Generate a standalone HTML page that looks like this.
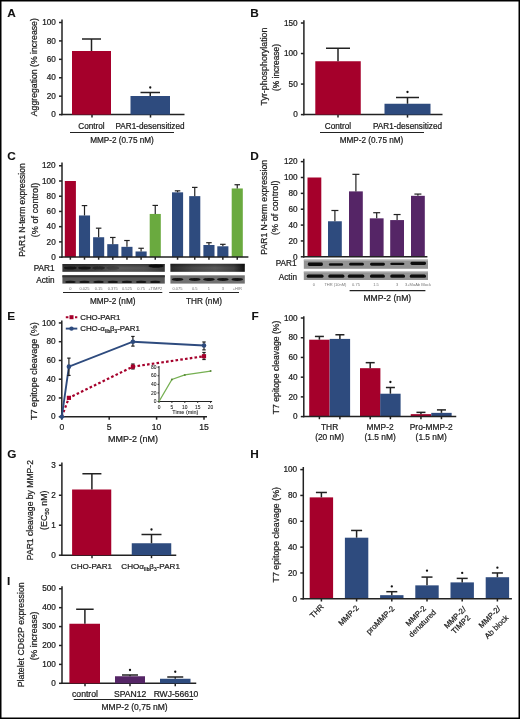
<!DOCTYPE html>
<html><head><meta charset="utf-8"><style>
html,body{margin:0;padding:0;background:#fff;}
body{width:520px;height:719px;overflow:hidden;}
svg{display:block;will-change:transform;font-family:"Liberation Sans", sans-serif;}
text{stroke:#1a1a1a;stroke-width:0.22px;}
</style></head><body>
<svg width="520" height="719" viewBox="0 0 520 719">
<rect x="0" y="0" width="520" height="719" fill="#fff"/>
<text x="7.20" y="16.60" font-size="11.8" font-weight="bold" fill="#111" style="stroke-width:0.1px">A</text>
<line x1="62.00" y1="19.60" x2="62.00" y2="115.25" stroke="#222" stroke-width="1.5" />
<line x1="59.00" y1="114.60" x2="62.00" y2="114.60" stroke="#222" stroke-width="1.5" />
<text x="55.80" y="117.31" font-size="8.2" text-anchor="end" font-weight="normal" fill="#222" >0</text>
<line x1="59.00" y1="96.18" x2="62.00" y2="96.18" stroke="#222" stroke-width="1.5" />
<text x="55.80" y="98.89" font-size="8.2" text-anchor="end" font-weight="normal" fill="#222" >20</text>
<line x1="59.00" y1="77.76" x2="62.00" y2="77.76" stroke="#222" stroke-width="1.5" />
<text x="55.80" y="80.47" font-size="8.2" text-anchor="end" font-weight="normal" fill="#222" >40</text>
<line x1="59.00" y1="59.34" x2="62.00" y2="59.34" stroke="#222" stroke-width="1.5" />
<text x="55.80" y="62.05" font-size="8.2" text-anchor="end" font-weight="normal" fill="#222" >60</text>
<line x1="59.00" y1="40.92" x2="62.00" y2="40.92" stroke="#222" stroke-width="1.5" />
<text x="55.80" y="43.63" font-size="8.2" text-anchor="end" font-weight="normal" fill="#222" >80</text>
<line x1="59.00" y1="22.50" x2="62.00" y2="22.50" stroke="#222" stroke-width="1.5" />
<text x="55.80" y="25.21" font-size="8.2" text-anchor="end" font-weight="normal" fill="#222" >100</text>
<line x1="61.35" y1="114.60" x2="184.50" y2="114.60" stroke="#222" stroke-width="1.5" />
<line x1="92.00" y1="114.60" x2="92.00" y2="117.60" stroke="#222" stroke-width="1.5" />
<line x1="150.50" y1="114.60" x2="150.50" y2="117.60" stroke="#222" stroke-width="1.5" />
<rect x="72.00" y="51.00" width="39.00" height="63.60" fill="#a5002b"/>
<line x1="91.50" y1="51.00" x2="91.50" y2="39.00" stroke="#222" stroke-width="1.5" />
<line x1="82.00" y1="39.00" x2="101.00" y2="39.00" stroke="#222" stroke-width="1.5" />
<rect x="130.50" y="96.00" width="39.50" height="18.60" fill="#2e4b7e"/>
<line x1="150.25" y1="96.00" x2="150.25" y2="92.50" stroke="#222" stroke-width="1.5" />
<line x1="140.50" y1="92.50" x2="160.00" y2="92.50" stroke="#222" stroke-width="1.5" />
<circle cx="150.25" cy="87.50" r="1.15" fill="#111"/>
<text x="91.50" y="128.71" font-size="8.2" text-anchor="middle" font-weight="normal" fill="#222" >Control</text>
<text x="150.00" y="128.71" font-size="8.2" text-anchor="middle" font-weight="normal" fill="#222" >PAR1-desensitized</text>
<line x1="70.00" y1="132.50" x2="174.00" y2="132.50" stroke="#222" stroke-width="1.1" />
<text x="122.00" y="142.51" font-size="8.2" text-anchor="middle" font-weight="normal" fill="#222" >MMP-2 (0.75 nM)</text>
<text transform="translate(33.90,67.20) rotate(-90)" x="0" y="3.11" font-size="8.7" text-anchor="middle" fill="#222">Aggregation (% increase)</text>
<text x="250.20" y="16.90" font-size="11.8" font-weight="bold" fill="#111" style="stroke-width:0.1px">B</text>
<line x1="303.90" y1="20.30" x2="303.90" y2="115.25" stroke="#222" stroke-width="1.5" />
<line x1="300.90" y1="114.60" x2="303.90" y2="114.60" stroke="#222" stroke-width="1.5" />
<text x="297.70" y="117.31" font-size="8.2" text-anchor="end" font-weight="normal" fill="#222" >0</text>
<line x1="300.90" y1="84.07" x2="303.90" y2="84.07" stroke="#222" stroke-width="1.5" />
<text x="297.70" y="86.77" font-size="8.2" text-anchor="end" font-weight="normal" fill="#222" >50</text>
<line x1="300.90" y1="53.53" x2="303.90" y2="53.53" stroke="#222" stroke-width="1.5" />
<text x="297.70" y="56.24" font-size="8.2" text-anchor="end" font-weight="normal" fill="#222" >100</text>
<line x1="300.90" y1="23.00" x2="303.90" y2="23.00" stroke="#222" stroke-width="1.5" />
<text x="297.70" y="25.71" font-size="8.2" text-anchor="end" font-weight="normal" fill="#222" >150</text>
<line x1="303.25" y1="114.60" x2="442.50" y2="114.60" stroke="#222" stroke-width="1.5" />
<line x1="338.00" y1="114.60" x2="338.00" y2="117.60" stroke="#222" stroke-width="1.5" />
<line x1="407.50" y1="114.60" x2="407.50" y2="117.60" stroke="#222" stroke-width="1.5" />
<rect x="315.30" y="61.25" width="45.45" height="53.35" fill="#a5002b"/>
<line x1="338.00" y1="61.25" x2="338.00" y2="48.25" stroke="#222" stroke-width="1.5" />
<line x1="326.00" y1="48.25" x2="350.00" y2="48.25" stroke="#222" stroke-width="1.5" />
<rect x="384.50" y="103.75" width="46.00" height="10.85" fill="#2e4b7e"/>
<line x1="407.50" y1="103.75" x2="407.50" y2="97.50" stroke="#222" stroke-width="1.5" />
<line x1="396.00" y1="97.50" x2="419.00" y2="97.50" stroke="#222" stroke-width="1.5" />
<circle cx="407.50" cy="92.00" r="1.15" fill="#111"/>
<text x="338.00" y="128.71" font-size="8.2" text-anchor="middle" font-weight="normal" fill="#222" >Control</text>
<text x="407.50" y="128.71" font-size="8.2" text-anchor="middle" font-weight="normal" fill="#222" >PAR1-desensitized</text>
<line x1="320.00" y1="132.50" x2="424.00" y2="132.50" stroke="#222" stroke-width="1.1" />
<text x="371.50" y="142.51" font-size="8.2" text-anchor="middle" font-weight="normal" fill="#222" >MMP-2 (0.75 nM)</text>
<text transform="translate(263.60,66.50) rotate(-90)" x="0" y="3.19" font-size="8.9" text-anchor="middle" fill="#222">Tyr-phosphorylation</text>
<text transform="translate(275.75,67.50) rotate(-90)" x="0" y="3.01" font-size="8.4" text-anchor="middle" fill="#222">(% increase)</text>
<text x="7.20" y="160.20" font-size="11.8" font-weight="bold" fill="#111" style="stroke-width:0.1px">C</text>
<line x1="62.00" y1="162.50" x2="62.00" y2="257.75" stroke="#222" stroke-width="1.5" />
<line x1="59.00" y1="257.10" x2="62.00" y2="257.10" stroke="#222" stroke-width="1.5" />
<text x="55.70" y="259.81" font-size="8.2" text-anchor="end" font-weight="normal" fill="#222" >0</text>
<line x1="59.00" y1="241.88" x2="62.00" y2="241.88" stroke="#222" stroke-width="1.5" />
<text x="55.70" y="244.59" font-size="8.2" text-anchor="end" font-weight="normal" fill="#222" >20</text>
<line x1="59.00" y1="226.66" x2="62.00" y2="226.66" stroke="#222" stroke-width="1.5" />
<text x="55.70" y="229.37" font-size="8.2" text-anchor="end" font-weight="normal" fill="#222" >40</text>
<line x1="59.00" y1="211.44" x2="62.00" y2="211.44" stroke="#222" stroke-width="1.5" />
<text x="55.70" y="214.15" font-size="8.2" text-anchor="end" font-weight="normal" fill="#222" >60</text>
<line x1="59.00" y1="196.22" x2="62.00" y2="196.22" stroke="#222" stroke-width="1.5" />
<text x="55.70" y="198.93" font-size="8.2" text-anchor="end" font-weight="normal" fill="#222" >80</text>
<line x1="59.00" y1="181.00" x2="62.00" y2="181.00" stroke="#222" stroke-width="1.5" />
<text x="55.70" y="183.71" font-size="8.2" text-anchor="end" font-weight="normal" fill="#222" >100</text>
<line x1="59.00" y1="165.78" x2="62.00" y2="165.78" stroke="#222" stroke-width="1.5" />
<text x="55.70" y="168.49" font-size="8.2" text-anchor="end" font-weight="normal" fill="#222" >120</text>
<rect x="64.80" y="181.00" width="11.10" height="76.10" fill="#a5002b"/>
<rect x="78.95" y="215.47" width="11.10" height="41.63" fill="#2e4b7e"/>
<line x1="84.50" y1="215.47" x2="84.50" y2="205.58" stroke="#222" stroke-width="1.2" />
<line x1="81.75" y1="205.58" x2="87.25" y2="205.58" stroke="#222" stroke-width="1.2" />
<rect x="93.10" y="237.24" width="11.10" height="19.86" fill="#2e4b7e"/>
<line x1="98.65" y1="237.24" x2="98.65" y2="228.18" stroke="#222" stroke-width="1.2" />
<line x1="95.90" y1="228.18" x2="101.40" y2="228.18" stroke="#222" stroke-width="1.2" />
<rect x="107.25" y="244.16" width="11.10" height="12.94" fill="#2e4b7e"/>
<line x1="112.80" y1="244.16" x2="112.80" y2="237.47" stroke="#222" stroke-width="1.2" />
<line x1="110.05" y1="237.47" x2="115.55" y2="237.47" stroke="#222" stroke-width="1.2" />
<rect x="121.40" y="246.83" width="11.10" height="10.27" fill="#2e4b7e"/>
<line x1="126.95" y1="246.83" x2="126.95" y2="240.51" stroke="#222" stroke-width="1.2" />
<line x1="124.20" y1="240.51" x2="129.70" y2="240.51" stroke="#222" stroke-width="1.2" />
<rect x="135.55" y="251.47" width="11.10" height="5.63" fill="#2e4b7e"/>
<line x1="141.10" y1="251.47" x2="141.10" y2="248.27" stroke="#222" stroke-width="1.2" />
<line x1="138.35" y1="248.27" x2="143.85" y2="248.27" stroke="#222" stroke-width="1.2" />
<rect x="149.70" y="213.95" width="11.10" height="43.15" fill="#6aaa3f"/>
<line x1="155.25" y1="213.95" x2="155.25" y2="205.43" stroke="#222" stroke-width="1.2" />
<line x1="152.50" y1="205.43" x2="158.00" y2="205.43" stroke="#222" stroke-width="1.2" />
<rect x="172.00" y="192.34" width="11.10" height="64.76" fill="#2e4b7e"/>
<line x1="177.55" y1="192.34" x2="177.55" y2="190.82" stroke="#222" stroke-width="1.2" />
<line x1="174.80" y1="190.82" x2="180.30" y2="190.82" stroke="#222" stroke-width="1.2" />
<rect x="189.20" y="196.14" width="11.10" height="60.96" fill="#2e4b7e"/>
<line x1="194.75" y1="196.14" x2="194.75" y2="187.39" stroke="#222" stroke-width="1.2" />
<line x1="192.00" y1="187.39" x2="197.50" y2="187.39" stroke="#222" stroke-width="1.2" />
<rect x="203.40" y="245.00" width="11.10" height="12.10" fill="#2e4b7e"/>
<line x1="208.95" y1="245.00" x2="208.95" y2="242.72" stroke="#222" stroke-width="1.2" />
<line x1="206.20" y1="242.72" x2="211.70" y2="242.72" stroke="#222" stroke-width="1.2" />
<rect x="217.30" y="246.29" width="11.10" height="10.81" fill="#2e4b7e"/>
<line x1="222.85" y1="246.29" x2="222.85" y2="244.32" stroke="#222" stroke-width="1.2" />
<line x1="220.10" y1="244.32" x2="225.60" y2="244.32" stroke="#222" stroke-width="1.2" />
<rect x="231.70" y="188.46" width="11.10" height="68.64" fill="#6aaa3f"/>
<line x1="237.25" y1="188.46" x2="237.25" y2="184.73" stroke="#222" stroke-width="1.2" />
<line x1="234.50" y1="184.73" x2="240.00" y2="184.73" stroke="#222" stroke-width="1.2" />
<line x1="61.35" y1="257.10" x2="248.40" y2="257.10" stroke="#222" stroke-width="1.5" />
<line x1="70.35" y1="257.10" x2="70.35" y2="259.70" stroke="#222" stroke-width="1.5" />
<line x1="84.50" y1="257.10" x2="84.50" y2="259.70" stroke="#222" stroke-width="1.5" />
<line x1="98.65" y1="257.10" x2="98.65" y2="259.70" stroke="#222" stroke-width="1.5" />
<line x1="112.80" y1="257.10" x2="112.80" y2="259.70" stroke="#222" stroke-width="1.5" />
<line x1="126.95" y1="257.10" x2="126.95" y2="259.70" stroke="#222" stroke-width="1.5" />
<line x1="141.10" y1="257.10" x2="141.10" y2="259.70" stroke="#222" stroke-width="1.5" />
<line x1="155.25" y1="257.10" x2="155.25" y2="259.70" stroke="#222" stroke-width="1.5" />
<line x1="177.55" y1="257.10" x2="177.55" y2="259.70" stroke="#222" stroke-width="1.5" />
<line x1="194.75" y1="257.10" x2="194.75" y2="259.70" stroke="#222" stroke-width="1.5" />
<line x1="208.95" y1="257.10" x2="208.95" y2="259.70" stroke="#222" stroke-width="1.5" />
<line x1="222.85" y1="257.10" x2="222.85" y2="259.70" stroke="#222" stroke-width="1.5" />
<line x1="237.25" y1="257.10" x2="237.25" y2="259.70" stroke="#222" stroke-width="1.5" />
<text transform="translate(21.60,210.00) rotate(-90)" x="0" y="3.04" font-size="8.5" text-anchor="middle" fill="#222">PAR1 N-term expression</text>
<text transform="translate(34.40,210.00) rotate(-90)" x="0" y="3.29" font-size="9.2" text-anchor="middle" fill="#222">(% of control)</text>
<text x="54.50" y="270.51" font-size="8.2" text-anchor="end" font-weight="normal" fill="#222" >PAR1</text>
<text x="54.50" y="282.81" font-size="8.2" text-anchor="end" font-weight="normal" fill="#222" >Actin</text>
<defs><linearGradient id="cb1" x1="0" x2="1" y1="0" y2="0"><stop offset="0" stop-color="#3a3a3a"/><stop offset="0.3" stop-color="#444"/><stop offset="0.55" stop-color="#5c5c5c"/><stop offset="0.8" stop-color="#555"/><stop offset="1" stop-color="#3a3a3a"/></linearGradient><linearGradient id="cb2" x1="0" x2="1" y1="0" y2="0"><stop offset="0" stop-color="#2a2a2a"/><stop offset="0.3" stop-color="#4a4a4a"/><stop offset="0.6" stop-color="#5a5a5a"/><stop offset="0.85" stop-color="#444"/><stop offset="1" stop-color="#111"/></linearGradient><linearGradient id="vshade" x1="0" x2="0" y1="0" y2="1"><stop offset="0" stop-color="#000" stop-opacity="0.35"/><stop offset="0.5" stop-color="#000" stop-opacity="0"/><stop offset="1" stop-color="#000" stop-opacity="0.1"/></linearGradient><filter id="bl" x="-20%" y="-50%" width="140%" height="200%"><feGaussianBlur stdDeviation="0.6"/></filter></defs>
<rect x="62.40" y="264.00" width="102.40" height="7.80" fill="url(#cb1)"/>
<rect x="62.40" y="264.00" width="102.40" height="7.80" fill="url(#vshade)"/>
<rect x="62.40" y="275.30" width="102.40" height="8.30" fill="#585858"/>
<rect x="62.40" y="275.30" width="102.40" height="2.00" fill="#333"/>
<g filter="url(#bl)">
<ellipse cx="70.35" cy="281.9" rx="5.2" ry="1.2" fill="#151515"/>
<ellipse cx="84.50" cy="281.9" rx="5.2" ry="1.2" fill="#151515"/>
<ellipse cx="98.65" cy="281.9" rx="5.2" ry="1.2" fill="#151515"/>
<ellipse cx="112.80" cy="281.9" rx="5.2" ry="1.2" fill="#151515"/>
<ellipse cx="126.95" cy="281.9" rx="5.2" ry="1.2" fill="#151515"/>
<ellipse cx="141.10" cy="281.9" rx="5.2" ry="1.2" fill="#151515"/>
<ellipse cx="155.25" cy="281.9" rx="5.2" ry="1.2" fill="#151515"/>
<ellipse cx="70.35" cy="268" rx="6.5" ry="1.6" fill="#161616" fill-opacity="1"/>
<ellipse cx="84.50" cy="268" rx="6.5" ry="1.6" fill="#161616" fill-opacity="1"/>
<ellipse cx="98.65" cy="268" rx="6.5" ry="1.6" fill="#161616" fill-opacity="0.6"/>
<ellipse cx="112.80" cy="268" rx="6.5" ry="1.6" fill="#161616" fill-opacity="0.35"/>
<ellipse cx="156" cy="266" rx="7.5" ry="1.7" fill="#111"/>
</g>
<rect x="170.40" y="263.80" width="74.40" height="8.00" fill="url(#cb2)"/>
<rect x="170.40" y="263.80" width="74.40" height="8.00" fill="url(#vshade)"/>
<rect x="170.40" y="275.30" width="74.40" height="8.30" fill="#727272"/>
<g filter="url(#bl)">
<ellipse cx="177.55" cy="279.4" rx="5.8" ry="1.5" fill="#141414"/>
<ellipse cx="194.75" cy="279.4" rx="5.8" ry="1.5" fill="#141414"/>
<ellipse cx="208.95" cy="279.4" rx="5.8" ry="1.5" fill="#141414"/>
<ellipse cx="222.85" cy="279.4" rx="5.8" ry="1.5" fill="#141414"/>
<ellipse cx="237.25" cy="279.4" rx="5.8" ry="1.5" fill="#141414"/>
</g>
<text x="70.35" y="289.52" font-size="4" text-anchor="middle" font-weight="normal" fill="#777" style="stroke:none">0</text>
<text x="84.50" y="289.52" font-size="4" text-anchor="middle" font-weight="normal" fill="#777" style="stroke:none">0.025</text>
<text x="98.65" y="289.52" font-size="4" text-anchor="middle" font-weight="normal" fill="#777" style="stroke:none">0.15</text>
<text x="112.80" y="289.52" font-size="4" text-anchor="middle" font-weight="normal" fill="#777" style="stroke:none">0.375</text>
<text x="126.95" y="289.52" font-size="4" text-anchor="middle" font-weight="normal" fill="#777" style="stroke:none">0.525</text>
<text x="141.10" y="289.52" font-size="4" text-anchor="middle" font-weight="normal" fill="#777" style="stroke:none">0.75</text>
<text x="155.25" y="289.52" font-size="4" text-anchor="middle" font-weight="normal" fill="#777" style="stroke:none">+TIMP2</text>
<text x="177.55" y="289.52" font-size="4" text-anchor="middle" font-weight="normal" fill="#777" style="stroke:none">0.075</text>
<text x="194.75" y="289.52" font-size="4" text-anchor="middle" font-weight="normal" fill="#777" style="stroke:none">0.5</text>
<text x="208.95" y="289.52" font-size="4" text-anchor="middle" font-weight="normal" fill="#777" style="stroke:none">1</text>
<text x="222.85" y="289.52" font-size="4" text-anchor="middle" font-weight="normal" fill="#777" style="stroke:none">3</text>
<text x="237.25" y="289.52" font-size="4" text-anchor="middle" font-weight="normal" fill="#777" style="stroke:none">+HIR</text>
<line x1="63.00" y1="292.50" x2="162.30" y2="292.50" stroke="#222" stroke-width="1.1" />
<line x1="169.20" y1="292.50" x2="239.00" y2="292.50" stroke="#222" stroke-width="1.1" />
<text x="112.70" y="303.91" font-size="8.2" text-anchor="middle" font-weight="normal" fill="#222" >MMP-2 (nM)</text>
<text x="204.00" y="303.51" font-size="8.2" text-anchor="middle" font-weight="normal" fill="#222" >THR (nM)</text>
<text x="250.20" y="159.60" font-size="11.8" font-weight="bold" fill="#111" style="stroke-width:0.1px">D</text>
<line x1="303.80" y1="158.80" x2="303.80" y2="257.45" stroke="#222" stroke-width="1.5" />
<line x1="300.80" y1="256.80" x2="303.80" y2="256.80" stroke="#222" stroke-width="1.5" />
<text x="297.60" y="259.51" font-size="8.2" text-anchor="end" font-weight="normal" fill="#222" >0</text>
<line x1="300.80" y1="240.94" x2="303.80" y2="240.94" stroke="#222" stroke-width="1.5" />
<text x="297.60" y="243.65" font-size="8.2" text-anchor="end" font-weight="normal" fill="#222" >20</text>
<line x1="300.80" y1="225.08" x2="303.80" y2="225.08" stroke="#222" stroke-width="1.5" />
<text x="297.60" y="227.79" font-size="8.2" text-anchor="end" font-weight="normal" fill="#222" >40</text>
<line x1="300.80" y1="209.22" x2="303.80" y2="209.22" stroke="#222" stroke-width="1.5" />
<text x="297.60" y="211.93" font-size="8.2" text-anchor="end" font-weight="normal" fill="#222" >60</text>
<line x1="300.80" y1="193.36" x2="303.80" y2="193.36" stroke="#222" stroke-width="1.5" />
<text x="297.60" y="196.07" font-size="8.2" text-anchor="end" font-weight="normal" fill="#222" >80</text>
<line x1="300.80" y1="177.50" x2="303.80" y2="177.50" stroke="#222" stroke-width="1.5" />
<text x="297.60" y="180.21" font-size="8.2" text-anchor="end" font-weight="normal" fill="#222" >100</text>
<line x1="300.80" y1="161.64" x2="303.80" y2="161.64" stroke="#222" stroke-width="1.5" />
<text x="297.60" y="164.35" font-size="8.2" text-anchor="end" font-weight="normal" fill="#222" >120</text>
<rect x="307.50" y="177.50" width="13.80" height="79.30" fill="#a5002b"/>
<rect x="328.00" y="221.27" width="13.80" height="35.53" fill="#2e4b7e"/>
<line x1="334.90" y1="221.27" x2="334.90" y2="210.49" stroke="#222" stroke-width="1.2" />
<line x1="331.40" y1="210.49" x2="338.40" y2="210.49" stroke="#222" stroke-width="1.2" />
<rect x="349.00" y="191.38" width="13.80" height="65.42" fill="#552566"/>
<line x1="355.90" y1="191.38" x2="355.90" y2="174.33" stroke="#222" stroke-width="1.2" />
<line x1="352.40" y1="174.33" x2="359.40" y2="174.33" stroke="#222" stroke-width="1.2" />
<rect x="369.80" y="218.34" width="13.80" height="38.46" fill="#552566"/>
<line x1="376.70" y1="218.34" x2="376.70" y2="212.71" stroke="#222" stroke-width="1.2" />
<line x1="373.20" y1="212.71" x2="380.20" y2="212.71" stroke="#222" stroke-width="1.2" />
<rect x="390.20" y="220.08" width="13.80" height="36.72" fill="#552566"/>
<line x1="397.10" y1="220.08" x2="397.10" y2="214.53" stroke="#222" stroke-width="1.2" />
<line x1="393.60" y1="214.53" x2="400.60" y2="214.53" stroke="#222" stroke-width="1.2" />
<rect x="411.00" y="195.82" width="13.80" height="60.98" fill="#552566"/>
<line x1="417.90" y1="195.82" x2="417.90" y2="194.07" stroke="#222" stroke-width="1.2" />
<line x1="414.40" y1="194.07" x2="421.40" y2="194.07" stroke="#222" stroke-width="1.2" />
<line x1="303.15" y1="256.80" x2="427.40" y2="256.80" stroke="#222" stroke-width="1.5" />
<text transform="translate(263.70,207.30) rotate(-90)" x="0" y="3.10" font-size="8.65" text-anchor="middle" fill="#222">PAR1 N-term expression</text>
<text transform="translate(274.90,207.80) rotate(-90)" x="0" y="3.29" font-size="9.2" text-anchor="middle" fill="#222">(% of control)</text>
<text x="296.50" y="266.31" font-size="8.2" text-anchor="end" font-weight="normal" fill="#222" >PAR1</text>
<text x="297.00" y="279.51" font-size="8.2" text-anchor="end" font-weight="normal" fill="#222" >Actin</text>
<rect x="303.80" y="259.60" width="124.20" height="9.20" fill="#949494"/>
<rect x="303.80" y="259.60" width="124.20" height="1.20" fill="#b5b5b5"/>
<rect x="303.80" y="271.60" width="124.20" height="8.40" fill="#959595"/>
<rect x="303.80" y="271.60" width="124.20" height="1.00" fill="#b0b0b0"/>
<g filter="url(#bl)">
<rect x="307.80" y="262.50" width="15.10" height="3.4" rx="1.4" fill="#0d0d0d"/>
<rect x="328.90" y="263.30" width="14.20" height="2.4" rx="1.4" fill="#0d0d0d"/>
<rect x="349.10" y="262.80" width="14.80" height="2.8" rx="1.4" fill="#0d0d0d"/>
<rect x="370.10" y="262.70" width="14.80" height="3" rx="1.4" fill="#0d0d0d"/>
<rect x="390.30" y="262.75" width="14.10" height="2.3" rx="1.4" fill="#0d0d0d"/>
<rect x="410.50" y="261.80" width="15.50" height="3.2" rx="1.4" fill="#0d0d0d"/>
<rect x="306.70" y="274.6" width="16.80" height="3.2" rx="1.5" fill="#0d0d0d"/>
<rect x="328.30" y="274.6" width="16.10" height="3.2" rx="1.5" fill="#0d0d0d"/>
<rect x="347.80" y="274.6" width="16.50" height="3.2" rx="1.5" fill="#0d0d0d"/>
<rect x="370.00" y="274.6" width="14.90" height="3.2" rx="1.5" fill="#0d0d0d"/>
<rect x="390.30" y="274.6" width="14.70" height="3.2" rx="1.5" fill="#0d0d0d"/>
<rect x="409.80" y="274.6" width="16.20" height="3.2" rx="1.5" fill="#0d0d0d"/>
</g>
<text x="313.90" y="285.82" font-size="4" text-anchor="middle" font-weight="normal" fill="#777" style="stroke:none">0</text>
<text x="335.40" y="285.82" font-size="4" text-anchor="middle" font-weight="normal" fill="#777" style="stroke:none">THR (10nM)</text>
<text x="356.00" y="285.82" font-size="4" text-anchor="middle" font-weight="normal" fill="#777" style="stroke:none">0.75</text>
<text x="376.00" y="285.82" font-size="4" text-anchor="middle" font-weight="normal" fill="#777" style="stroke:none">1.5</text>
<text x="397.00" y="285.82" font-size="4" text-anchor="middle" font-weight="normal" fill="#777" style="stroke:none">3</text>
<text x="418.00" y="285.82" font-size="4" text-anchor="middle" font-weight="normal" fill="#777" style="stroke:none">3+MoAb Block</text>
<line x1="349.60" y1="290.60" x2="425.40" y2="290.60" stroke="#222" stroke-width="1.1" />
<text x="387.30" y="300.74" font-size="8.6" text-anchor="middle" font-weight="normal" fill="#222" >MMP-2 (nM)</text>
<text x="7.30" y="319.60" font-size="11.8" font-weight="bold" fill="#111" style="stroke-width:0.1px">E</text>
<line x1="61.80" y1="320.50" x2="61.80" y2="417.35" stroke="#222" stroke-width="1.5" />
<line x1="58.80" y1="416.70" x2="61.80" y2="416.70" stroke="#222" stroke-width="1.5" />
<text x="55.60" y="419.41" font-size="8.2" text-anchor="end" font-weight="normal" fill="#222" >0</text>
<line x1="58.80" y1="397.95" x2="61.80" y2="397.95" stroke="#222" stroke-width="1.5" />
<text x="55.60" y="400.66" font-size="8.2" text-anchor="end" font-weight="normal" fill="#222" >20</text>
<line x1="58.80" y1="379.20" x2="61.80" y2="379.20" stroke="#222" stroke-width="1.5" />
<text x="55.60" y="381.91" font-size="8.2" text-anchor="end" font-weight="normal" fill="#222" >40</text>
<line x1="58.80" y1="360.45" x2="61.80" y2="360.45" stroke="#222" stroke-width="1.5" />
<text x="55.60" y="363.16" font-size="8.2" text-anchor="end" font-weight="normal" fill="#222" >60</text>
<line x1="58.80" y1="341.70" x2="61.80" y2="341.70" stroke="#222" stroke-width="1.5" />
<text x="55.60" y="344.41" font-size="8.2" text-anchor="end" font-weight="normal" fill="#222" >80</text>
<line x1="58.80" y1="322.95" x2="61.80" y2="322.95" stroke="#222" stroke-width="1.5" />
<text x="55.60" y="325.66" font-size="8.2" text-anchor="end" font-weight="normal" fill="#222" >100</text>
<line x1="61.15" y1="416.70" x2="207.00" y2="416.70" stroke="#222" stroke-width="1.5" />
<line x1="61.80" y1="416.70" x2="61.80" y2="419.70" stroke="#222" stroke-width="1.5" />
<line x1="109.20" y1="416.70" x2="109.20" y2="419.70" stroke="#222" stroke-width="1.5" />
<line x1="156.60" y1="416.70" x2="156.60" y2="419.70" stroke="#222" stroke-width="1.5" />
<line x1="204.00" y1="416.70" x2="204.00" y2="419.70" stroke="#222" stroke-width="1.5" />
<text x="61.80" y="430.34" font-size="8.6" text-anchor="middle" font-weight="normal" fill="#222" >0</text>
<text x="109.20" y="430.34" font-size="8.6" text-anchor="middle" font-weight="normal" fill="#222" >5</text>
<text x="156.60" y="430.34" font-size="8.6" text-anchor="middle" font-weight="normal" fill="#222" >10</text>
<text x="204.00" y="430.34" font-size="8.6" text-anchor="middle" font-weight="normal" fill="#222" >15</text>
<text x="133.00" y="442.47" font-size="9" text-anchor="middle" font-weight="normal" fill="#222" >MMP-2 (nM)</text>
<text transform="translate(33.60,371.10) rotate(-90)" x="0" y="3.22" font-size="9" text-anchor="middle" fill="#222">T7 epitope cleavage (%)</text>
<polyline points="61.80,416.70 68.91,397.86 132.90,366.64 204.00,356.23" fill="none" stroke="#a5002b" stroke-width="2.2" stroke-dasharray="2.6,2.2"/>
<polyline points="61.80,416.70 68.91,366.64 132.90,341.70 204.00,345.54" fill="none" stroke="#2e4b7e" stroke-width="1.9"/>
<line x1="68.91" y1="375.45" x2="68.91" y2="358.11" stroke="#222" stroke-width="1.2" />
<line x1="67.21" y1="375.45" x2="70.61" y2="375.45" stroke="#222" stroke-width="1.2" />
<line x1="67.21" y1="358.11" x2="70.61" y2="358.11" stroke="#222" stroke-width="1.2" />
<line x1="132.90" y1="346.11" x2="132.90" y2="336.45" stroke="#222" stroke-width="1.2" />
<line x1="131.20" y1="346.11" x2="134.60" y2="346.11" stroke="#222" stroke-width="1.2" />
<line x1="131.20" y1="336.45" x2="134.60" y2="336.45" stroke="#222" stroke-width="1.2" />
<line x1="204.00" y1="349.86" x2="204.00" y2="341.98" stroke="#222" stroke-width="1.2" />
<line x1="202.30" y1="349.86" x2="205.70" y2="349.86" stroke="#222" stroke-width="1.2" />
<line x1="202.30" y1="341.98" x2="205.70" y2="341.98" stroke="#222" stroke-width="1.2" />
<line x1="132.90" y1="368.98" x2="132.90" y2="364.01" stroke="#222" stroke-width="1.2" />
<line x1="131.20" y1="368.98" x2="134.60" y2="368.98" stroke="#222" stroke-width="1.2" />
<line x1="131.20" y1="364.01" x2="134.60" y2="364.01" stroke="#222" stroke-width="1.2" />
<line x1="204.00" y1="359.51" x2="204.00" y2="352.48" stroke="#222" stroke-width="1.2" />
<line x1="202.30" y1="359.51" x2="205.70" y2="359.51" stroke="#222" stroke-width="1.2" />
<line x1="202.30" y1="352.48" x2="205.70" y2="352.48" stroke="#222" stroke-width="1.2" />
<rect x="66.81" y="395.76" width="4.20" height="4.20" fill="#a5002b"/>
<rect x="130.80" y="364.54" width="4.20" height="4.20" fill="#a5002b"/>
<rect x="201.90" y="354.13" width="4.20" height="4.20" fill="#a5002b"/>
<circle cx="68.91" cy="366.64" r="2.3" fill="#2e4b7e"/>
<circle cx="132.90" cy="341.70" r="2.3" fill="#2e4b7e"/>
<circle cx="204.00" cy="345.54" r="2.3" fill="#2e4b7e"/>
<path d="M58.80,416.70 L61.80,413.70 L64.80,416.70 L61.80,419.70 Z" fill="#2e4b7e"/>
<line x1="65.8" y1="317.2" x2="77.3" y2="317.2" stroke="#a5002b" stroke-width="2" stroke-dasharray="2.6,2"/>
<rect x="69.50" y="315.20" width="4.00" height="4.00" fill="#a5002b"/>
<line x1="65.8" y1="328.6" x2="77.3" y2="328.6" stroke="#2e4b7e" stroke-width="1.9"/>
<circle cx="71.5" cy="328.6" r="2.2" fill="#2e4b7e"/>
<text x="80.20" y="319.81" font-size="7.9" text-anchor="start" font-weight="normal" fill="#222" >CHO-PAR1</text>
<text x="80.2" y="331.43" font-size="7.9" fill="#222">CHO-α<tspan font-size="4.6" dy="1.8">IIb</tspan><tspan dy="-1.8">β</tspan><tspan font-size="4.6" dy="1.8">3</tspan><tspan dy="-1.8">-PAR1</tspan></text>
<line x1="159.00" y1="366.00" x2="159.00" y2="401.50" stroke="#222" stroke-width="1.0" />
<line x1="159.00" y1="401.50" x2="212.10" y2="401.50" stroke="#222" stroke-width="1.0" />
<line x1="157.50" y1="401.50" x2="159.00" y2="401.50" stroke="#222" stroke-width="0.9" />
<text x="156.50" y="403.12" font-size="4.9" text-anchor="end" font-weight="normal" fill="#222"  style="stroke-width:0.08px">0</text>
<line x1="157.50" y1="392.93" x2="159.00" y2="392.93" stroke="#222" stroke-width="0.9" />
<text x="156.50" y="394.54" font-size="4.9" text-anchor="end" font-weight="normal" fill="#222"  style="stroke-width:0.08px">20</text>
<line x1="157.50" y1="384.35" x2="159.00" y2="384.35" stroke="#222" stroke-width="0.9" />
<text x="156.50" y="385.97" font-size="4.9" text-anchor="end" font-weight="normal" fill="#222"  style="stroke-width:0.08px">40</text>
<line x1="157.50" y1="375.77" x2="159.00" y2="375.77" stroke="#222" stroke-width="0.9" />
<text x="156.50" y="377.39" font-size="4.9" text-anchor="end" font-weight="normal" fill="#222"  style="stroke-width:0.08px">60</text>
<line x1="157.50" y1="367.20" x2="159.00" y2="367.20" stroke="#222" stroke-width="0.9" />
<text x="156.50" y="368.82" font-size="4.9" text-anchor="end" font-weight="normal" fill="#222"  style="stroke-width:0.08px">80</text>
<line x1="159.00" y1="401.50" x2="159.00" y2="403.00" stroke="#222" stroke-width="0.9" />
<text x="159.00" y="408.52" font-size="4.9" text-anchor="middle" font-weight="normal" fill="#222"  style="stroke-width:0.08px">0</text>
<line x1="171.90" y1="401.50" x2="171.90" y2="403.00" stroke="#222" stroke-width="0.9" />
<text x="171.90" y="408.52" font-size="4.9" text-anchor="middle" font-weight="normal" fill="#222"  style="stroke-width:0.08px">5</text>
<line x1="184.80" y1="401.50" x2="184.80" y2="403.00" stroke="#222" stroke-width="0.9" />
<text x="184.80" y="408.52" font-size="4.9" text-anchor="middle" font-weight="normal" fill="#222"  style="stroke-width:0.08px">10</text>
<line x1="197.70" y1="401.50" x2="197.70" y2="403.00" stroke="#222" stroke-width="0.9" />
<text x="197.70" y="408.52" font-size="4.9" text-anchor="middle" font-weight="normal" fill="#222"  style="stroke-width:0.08px">15</text>
<line x1="210.60" y1="401.50" x2="210.60" y2="403.00" stroke="#222" stroke-width="0.9" />
<text x="210.60" y="408.52" font-size="4.9" text-anchor="middle" font-weight="normal" fill="#222"  style="stroke-width:0.08px">20</text>
<text x="185.40" y="414.01" font-size="5.5" text-anchor="middle" font-weight="normal" fill="#222"  style="stroke-width:0.08px">Time (min)</text>
<polyline points="159.00,401.50 171.90,379.42 184.80,374.92 210.60,371.06" fill="none" stroke="#76b052" stroke-width="1.3"/>
<circle cx="171.90" cy="379.42" r="1" fill="#5a8a3a"/>
<circle cx="184.80" cy="374.92" r="1" fill="#5a8a3a"/>
<circle cx="210.60" cy="371.06" r="1" fill="#5a8a3a"/>
<text x="251.40" y="319.60" font-size="11.8" font-weight="bold" fill="#111" style="stroke-width:0.1px">F</text>
<line x1="303.80" y1="316.20" x2="303.80" y2="417.25" stroke="#222" stroke-width="1.5" />
<line x1="300.80" y1="416.60" x2="303.80" y2="416.60" stroke="#222" stroke-width="1.5" />
<text x="297.60" y="419.31" font-size="8.2" text-anchor="end" font-weight="normal" fill="#222" >0</text>
<line x1="300.80" y1="396.88" x2="303.80" y2="396.88" stroke="#222" stroke-width="1.5" />
<text x="297.60" y="399.59" font-size="8.2" text-anchor="end" font-weight="normal" fill="#222" >20</text>
<line x1="300.80" y1="377.16" x2="303.80" y2="377.16" stroke="#222" stroke-width="1.5" />
<text x="297.60" y="379.87" font-size="8.2" text-anchor="end" font-weight="normal" fill="#222" >40</text>
<line x1="300.80" y1="357.44" x2="303.80" y2="357.44" stroke="#222" stroke-width="1.5" />
<text x="297.60" y="360.15" font-size="8.2" text-anchor="end" font-weight="normal" fill="#222" >60</text>
<line x1="300.80" y1="337.72" x2="303.80" y2="337.72" stroke="#222" stroke-width="1.5" />
<text x="297.60" y="340.43" font-size="8.2" text-anchor="end" font-weight="normal" fill="#222" >80</text>
<line x1="300.80" y1="318.00" x2="303.80" y2="318.00" stroke="#222" stroke-width="1.5" />
<text x="297.60" y="320.71" font-size="8.2" text-anchor="end" font-weight="normal" fill="#222" >100</text>
<rect x="309.20" y="339.69" width="20.40" height="76.91" fill="#a5002b"/>
<line x1="319.40" y1="339.69" x2="319.40" y2="336.44" stroke="#222" stroke-width="1.5" />
<line x1="314.90" y1="336.44" x2="323.90" y2="336.44" stroke="#222" stroke-width="1.5" />
<rect x="329.70" y="338.90" width="20.40" height="77.70" fill="#2e4b7e"/>
<line x1="339.90" y1="338.90" x2="339.90" y2="334.76" stroke="#222" stroke-width="1.5" />
<line x1="335.40" y1="334.76" x2="344.40" y2="334.76" stroke="#222" stroke-width="1.5" />
<rect x="360.00" y="368.19" width="20.40" height="48.41" fill="#a5002b"/>
<line x1="370.20" y1="368.19" x2="370.20" y2="362.67" stroke="#222" stroke-width="1.5" />
<line x1="365.70" y1="362.67" x2="374.70" y2="362.67" stroke="#222" stroke-width="1.5" />
<rect x="380.20" y="393.72" width="20.40" height="22.88" fill="#2e4b7e"/>
<line x1="390.40" y1="393.72" x2="390.40" y2="387.51" stroke="#222" stroke-width="1.5" />
<line x1="385.90" y1="387.51" x2="394.90" y2="387.51" stroke="#222" stroke-width="1.5" />
<rect x="410.75" y="414.14" width="20.40" height="2.46" fill="#a5002b"/>
<line x1="420.95" y1="414.14" x2="420.95" y2="412.36" stroke="#222" stroke-width="1.5" />
<line x1="416.45" y1="412.36" x2="425.45" y2="412.36" stroke="#222" stroke-width="1.5" />
<rect x="431.25" y="412.85" width="20.40" height="3.75" fill="#2e4b7e"/>
<line x1="441.45" y1="412.85" x2="441.45" y2="409.90" stroke="#222" stroke-width="1.5" />
<line x1="436.95" y1="409.90" x2="445.95" y2="409.90" stroke="#222" stroke-width="1.5" />
<line x1="303.15" y1="416.60" x2="456.25" y2="416.60" stroke="#222" stroke-width="1.5" />
<line x1="319.40" y1="416.60" x2="319.40" y2="419.20" stroke="#222" stroke-width="1.5" />
<line x1="339.90" y1="416.60" x2="339.90" y2="419.20" stroke="#222" stroke-width="1.5" />
<line x1="370.20" y1="416.60" x2="370.20" y2="419.20" stroke="#222" stroke-width="1.5" />
<line x1="390.40" y1="416.60" x2="390.40" y2="419.20" stroke="#222" stroke-width="1.5" />
<line x1="420.95" y1="416.60" x2="420.95" y2="419.20" stroke="#222" stroke-width="1.5" />
<line x1="441.45" y1="416.60" x2="441.45" y2="419.20" stroke="#222" stroke-width="1.5" />
<circle cx="390.40" cy="382.00" r="1.15" fill="#111"/>
<text transform="translate(275.90,367.40) rotate(-90)" x="0" y="3.10" font-size="8.65" text-anchor="middle" fill="#222">T7 epitope cleavage (%)</text>
<text x="329.60" y="430.37" font-size="8.4" text-anchor="middle" font-weight="normal" fill="#222" >THR</text>
<text x="329.60" y="439.87" font-size="8.4" text-anchor="middle" font-weight="normal" fill="#222" >(20 nM)</text>
<text x="380.10" y="430.37" font-size="8.4" text-anchor="middle" font-weight="normal" fill="#222" >MMP-2</text>
<text x="380.10" y="439.87" font-size="8.4" text-anchor="middle" font-weight="normal" fill="#222" >(1.5 nM)</text>
<text x="431.20" y="430.37" font-size="8.4" text-anchor="middle" font-weight="normal" fill="#222" >Pro-MMP-2</text>
<text x="431.20" y="439.87" font-size="8.4" text-anchor="middle" font-weight="normal" fill="#222" >(1.5 nM)</text>
<text x="7.20" y="458.00" font-size="11.8" font-weight="bold" fill="#111" style="stroke-width:0.1px">G</text>
<line x1="61.90" y1="462.50" x2="61.90" y2="555.85" stroke="#222" stroke-width="1.5" />
<line x1="58.90" y1="555.20" x2="61.90" y2="555.20" stroke="#222" stroke-width="1.5" />
<text x="55.70" y="557.91" font-size="8.2" text-anchor="end" font-weight="normal" fill="#222" >0</text>
<line x1="58.90" y1="525.23" x2="61.90" y2="525.23" stroke="#222" stroke-width="1.5" />
<text x="55.70" y="527.94" font-size="8.2" text-anchor="end" font-weight="normal" fill="#222" >1</text>
<line x1="58.90" y1="495.27" x2="61.90" y2="495.27" stroke="#222" stroke-width="1.5" />
<text x="55.70" y="497.97" font-size="8.2" text-anchor="end" font-weight="normal" fill="#222" >2</text>
<line x1="58.90" y1="465.30" x2="61.90" y2="465.30" stroke="#222" stroke-width="1.5" />
<text x="55.70" y="468.01" font-size="8.2" text-anchor="end" font-weight="normal" fill="#222" >3</text>
<line x1="61.25" y1="555.20" x2="176.25" y2="555.20" stroke="#222" stroke-width="1.5" />
<line x1="92.00" y1="555.20" x2="92.00" y2="558.20" stroke="#222" stroke-width="1.5" />
<line x1="151.50" y1="555.20" x2="151.50" y2="558.20" stroke="#222" stroke-width="1.5" />
<rect x="72.10" y="489.50" width="39.15" height="65.70" fill="#a5002b"/>
<line x1="91.90" y1="489.50" x2="91.90" y2="473.75" stroke="#222" stroke-width="1.5" />
<line x1="82.40" y1="473.75" x2="101.40" y2="473.75" stroke="#222" stroke-width="1.5" />
<rect x="131.75" y="543.25" width="39.50" height="11.95" fill="#2e4b7e"/>
<line x1="151.50" y1="543.25" x2="151.50" y2="534.50" stroke="#222" stroke-width="1.5" />
<line x1="141.50" y1="534.50" x2="161.50" y2="534.50" stroke="#222" stroke-width="1.5" />
<circle cx="151.50" cy="529.50" r="1.15" fill="#111"/>
<text x="91.40" y="568.97" font-size="8.1" text-anchor="middle" font-weight="normal" fill="#222" >CHO-PAR1</text>
<text x="150.6" y="569.20" font-size="8.1" text-anchor="middle" fill="#222">CHOα<tspan font-size="4.8" dy="1.8">IIb</tspan><tspan dy="-1.8">β</tspan><tspan font-size="4.8" dy="1.8">3</tspan><tspan dy="-1.8">-PAR1</tspan></text>
<text transform="translate(30.20,510.10) rotate(-90)" x="0" y="3.08" font-size="8.6" text-anchor="middle" fill="#222">PAR1 cleavage by MMP-2</text>
<text transform="translate(43.8,510.2) rotate(-90)" x="0" y="3.15" font-size="8.8" text-anchor="middle" fill="#222">(EC<tspan font-size="6" dy="1.9">50</tspan><tspan dy="-1.9"> nM)</tspan></text>
<text x="250.20" y="458.00" font-size="11.8" font-weight="bold" fill="#111" style="stroke-width:0.1px">H</text>
<line x1="303.30" y1="467.00" x2="303.30" y2="599.45" stroke="#222" stroke-width="1.5" />
<line x1="300.30" y1="598.80" x2="303.30" y2="598.80" stroke="#222" stroke-width="1.5" />
<text x="297.10" y="601.51" font-size="8.2" text-anchor="end" font-weight="normal" fill="#222" >0</text>
<line x1="300.30" y1="572.96" x2="303.30" y2="572.96" stroke="#222" stroke-width="1.5" />
<text x="297.10" y="575.67" font-size="8.2" text-anchor="end" font-weight="normal" fill="#222" >20</text>
<line x1="300.30" y1="547.12" x2="303.30" y2="547.12" stroke="#222" stroke-width="1.5" />
<text x="297.10" y="549.83" font-size="8.2" text-anchor="end" font-weight="normal" fill="#222" >40</text>
<line x1="300.30" y1="521.28" x2="303.30" y2="521.28" stroke="#222" stroke-width="1.5" />
<text x="297.10" y="523.99" font-size="8.2" text-anchor="end" font-weight="normal" fill="#222" >60</text>
<line x1="300.30" y1="495.44" x2="303.30" y2="495.44" stroke="#222" stroke-width="1.5" />
<text x="297.10" y="498.15" font-size="8.2" text-anchor="end" font-weight="normal" fill="#222" >80</text>
<line x1="300.30" y1="469.60" x2="303.30" y2="469.60" stroke="#222" stroke-width="1.5" />
<text x="297.10" y="472.31" font-size="8.2" text-anchor="end" font-weight="normal" fill="#222" >100</text>
<rect x="309.70" y="497.38" width="23.40" height="101.42" fill="#a5002b"/>
<line x1="321.40" y1="497.38" x2="321.40" y2="492.47" stroke="#222" stroke-width="1.5" />
<line x1="315.90" y1="492.47" x2="326.90" y2="492.47" stroke="#222" stroke-width="1.5" />
<rect x="344.90" y="537.69" width="23.40" height="61.11" fill="#2e4b7e"/>
<line x1="356.60" y1="537.69" x2="356.60" y2="530.45" stroke="#222" stroke-width="1.5" />
<line x1="351.10" y1="530.45" x2="362.10" y2="530.45" stroke="#222" stroke-width="1.5" />
<rect x="380.10" y="595.18" width="23.40" height="3.62" fill="#2e4b7e"/>
<line x1="391.80" y1="595.18" x2="391.80" y2="591.69" stroke="#222" stroke-width="1.5" />
<line x1="386.30" y1="591.69" x2="397.30" y2="591.69" stroke="#222" stroke-width="1.5" />
<circle cx="391.80" cy="586.40" r="1.15" fill="#111"/>
<rect x="415.30" y="585.36" width="23.40" height="13.44" fill="#2e4b7e"/>
<line x1="427.00" y1="585.36" x2="427.00" y2="577.09" stroke="#222" stroke-width="1.5" />
<line x1="421.50" y1="577.09" x2="432.50" y2="577.09" stroke="#222" stroke-width="1.5" />
<circle cx="427.00" cy="570.70" r="1.15" fill="#111"/>
<rect x="450.50" y="582.39" width="23.40" height="16.41" fill="#2e4b7e"/>
<line x1="462.20" y1="582.39" x2="462.20" y2="578.39" stroke="#222" stroke-width="1.5" />
<line x1="456.70" y1="578.39" x2="467.70" y2="578.39" stroke="#222" stroke-width="1.5" />
<circle cx="462.20" cy="572.90" r="1.15" fill="#111"/>
<rect x="485.70" y="577.22" width="23.40" height="21.58" fill="#2e4b7e"/>
<line x1="497.40" y1="577.22" x2="497.40" y2="572.96" stroke="#222" stroke-width="1.5" />
<line x1="491.90" y1="572.96" x2="502.90" y2="572.96" stroke="#222" stroke-width="1.5" />
<circle cx="497.40" cy="567.70" r="1.15" fill="#111"/>
<line x1="302.65" y1="598.80" x2="511.90" y2="598.80" stroke="#222" stroke-width="1.5" />
<line x1="321.40" y1="598.80" x2="321.40" y2="601.50" stroke="#222" stroke-width="1.5" />
<line x1="356.60" y1="598.80" x2="356.60" y2="601.50" stroke="#222" stroke-width="1.5" />
<line x1="391.80" y1="598.80" x2="391.80" y2="601.50" stroke="#222" stroke-width="1.5" />
<line x1="427.00" y1="598.80" x2="427.00" y2="601.50" stroke="#222" stroke-width="1.5" />
<line x1="462.20" y1="598.80" x2="462.20" y2="601.50" stroke="#222" stroke-width="1.5" />
<line x1="497.40" y1="598.80" x2="497.40" y2="601.50" stroke="#222" stroke-width="1.5" />
<text transform="translate(275.60,534.80) rotate(-90)" x="0" y="3.15" font-size="8.8" text-anchor="middle" fill="#222">T7 epitope cleavage (%)</text>
<text transform="translate(316.70,611.00) rotate(-45)" x="0" y="2.79" font-size="7.8" text-anchor="middle" fill="#222">THR</text>
<text transform="translate(348.40,615.40) rotate(-45)" x="0" y="2.79" font-size="7.8" text-anchor="middle" fill="#222">MMP-2</text>
<text transform="translate(380.20,620.00) rotate(-45)" x="0" y="2.79" font-size="7.8" text-anchor="middle" fill="#222">proMMP-2</text>
<text transform="translate(415.60,615.80) rotate(-45)" x="0" y="2.79" font-size="7.8" text-anchor="middle" fill="#222">MMP-2</text>
<text transform="translate(422.30,623.30) rotate(-45)" x="0" y="2.79" font-size="7.8" text-anchor="middle" fill="#222">denatured</text>
<text transform="translate(454.80,617.50) rotate(-45)" x="0" y="2.79" font-size="7.8" text-anchor="middle" fill="#222">MMP-2/</text>
<text transform="translate(460.60,624.40) rotate(-45)" x="0" y="2.79" font-size="7.8" text-anchor="middle" fill="#222">TIMP2</text>
<text transform="translate(489.50,616.90) rotate(-45)" x="0" y="2.79" font-size="7.8" text-anchor="middle" fill="#222">MMP-2/</text>
<text transform="translate(496.40,626.80) rotate(-45)" x="0" y="2.79" font-size="7.8" text-anchor="middle" fill="#222">Ab block</text>
<text x="7.10" y="585.30" font-size="11.8" font-weight="bold" fill="#111" style="stroke-width:0.1px">I</text>
<line x1="62.00" y1="586.20" x2="62.00" y2="683.95" stroke="#222" stroke-width="1.5" />
<line x1="59.00" y1="683.30" x2="62.00" y2="683.30" stroke="#222" stroke-width="1.5" />
<text x="55.80" y="686.01" font-size="8.2" text-anchor="end" font-weight="normal" fill="#222" >0</text>
<line x1="59.00" y1="664.39" x2="62.00" y2="664.39" stroke="#222" stroke-width="1.5" />
<text x="55.80" y="667.10" font-size="8.2" text-anchor="end" font-weight="normal" fill="#222" >100</text>
<line x1="59.00" y1="645.48" x2="62.00" y2="645.48" stroke="#222" stroke-width="1.5" />
<text x="55.80" y="648.19" font-size="8.2" text-anchor="end" font-weight="normal" fill="#222" >200</text>
<line x1="59.00" y1="626.57" x2="62.00" y2="626.57" stroke="#222" stroke-width="1.5" />
<text x="55.80" y="629.28" font-size="8.2" text-anchor="end" font-weight="normal" fill="#222" >300</text>
<line x1="59.00" y1="607.66" x2="62.00" y2="607.66" stroke="#222" stroke-width="1.5" />
<text x="55.80" y="610.37" font-size="8.2" text-anchor="end" font-weight="normal" fill="#222" >400</text>
<line x1="59.00" y1="588.75" x2="62.00" y2="588.75" stroke="#222" stroke-width="1.5" />
<text x="55.80" y="591.46" font-size="8.2" text-anchor="end" font-weight="normal" fill="#222" >500</text>
<line x1="61.35" y1="683.30" x2="196.25" y2="683.30" stroke="#222" stroke-width="1.5" />
<line x1="85.00" y1="683.30" x2="85.00" y2="686.30" stroke="#222" stroke-width="1.5" />
<line x1="130.00" y1="683.30" x2="130.00" y2="686.30" stroke="#222" stroke-width="1.5" />
<line x1="175.25" y1="683.30" x2="175.25" y2="686.30" stroke="#222" stroke-width="1.5" />
<rect x="69.40" y="623.75" width="30.60" height="59.55" fill="#a5002b"/>
<line x1="84.90" y1="623.75" x2="84.90" y2="609.25" stroke="#222" stroke-width="1.5" />
<line x1="76.15" y1="609.25" x2="93.65" y2="609.25" stroke="#222" stroke-width="1.5" />
<rect x="115.00" y="676.25" width="30.00" height="7.05" fill="#552566"/>
<line x1="130.00" y1="676.25" x2="130.00" y2="675.00" stroke="#222" stroke-width="1.5" />
<line x1="122.00" y1="675.00" x2="138.00" y2="675.00" stroke="#222" stroke-width="1.5" />
<circle cx="130.00" cy="670.00" r="1.15" fill="#111"/>
<rect x="160.00" y="678.75" width="30.50" height="4.55" fill="#2e4b7e"/>
<line x1="175.25" y1="678.75" x2="175.25" y2="677.00" stroke="#222" stroke-width="1.5" />
<line x1="167.25" y1="677.00" x2="183.25" y2="677.00" stroke="#222" stroke-width="1.5" />
<circle cx="175.25" cy="671.75" r="1.15" fill="#111"/>
<text x="85.00" y="696.87" font-size="8.7" text-anchor="middle" font-weight="normal" fill="#222" >control</text>
<text x="130.20" y="697.34" font-size="8.6" text-anchor="middle" font-weight="normal" fill="#222" >SPAN12</text>
<text x="176.00" y="697.30" font-size="8.5" text-anchor="middle" font-weight="normal" fill="#222" >RWJ-56610</text>
<line x1="73.75" y1="699.50" x2="193.00" y2="699.50" stroke="#222" stroke-width="1.1" />
<text x="134.60" y="710.20" font-size="8.5" text-anchor="middle" font-weight="normal" fill="#222" >MMP-2 (0,75 nM)</text>
<text transform="translate(20.80,634.80) rotate(-90)" x="0" y="3.15" font-size="8.8" text-anchor="middle" fill="#222">Platelet CD62P expression</text>
<text transform="translate(34.10,635.90) rotate(-90)" x="0" y="3.11" font-size="8.7" text-anchor="middle" fill="#222">(% increase)</text>
<rect x="0.75" y="0.75" width="518.5" height="717.5" fill="none" stroke="#000" stroke-width="1.5"/>
</svg></body></html>
